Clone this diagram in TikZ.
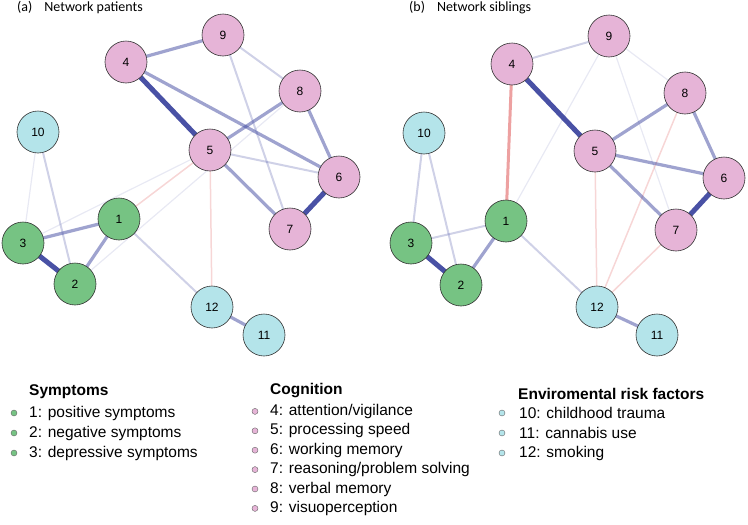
\documentclass[tikz,border=0pt]{standalone}
\usepackage{fontspec}
\setmainfont{Liberation Sans}
\newfontfamily\titlefont{Carlito}
\usetikzlibrary{positioning}

\definecolor{cogpink}{HTML}{E6B4D7}
\definecolor{sympgreen}{HTML}{76C383}
\definecolor{envcyan}{HTML}{B4E4EA}
\definecolor{edgeblue}{HTML}{3F48A0}
\definecolor{edgered}{HTML}{E88A8A}

\tikzset{
  var/.style={circle,draw=black!80,line width=0.6pt,minimum size=42pt,inner sep=0pt,font=\fontsize{12}{12}\selectfont},
  cog/.style={var,fill=cogpink},
  symp/.style={var,fill=sympgreen},
  env/.style={var,fill=envcyan},
  strong/.style={draw=edgeblue,line width=5pt,opacity=0.95},
  mid/.style={draw=edgeblue,line width=3.2pt,opacity=0.5},
  weak/.style={draw=edgeblue,line width=2pt,opacity=0.25},
  faint/.style={draw=edgeblue,line width=1.2pt,opacity=0.12},
  negmid/.style={draw=edgered,line width=3pt,opacity=0.8},
  negweak/.style={draw=edgered,line width=1.5pt,opacity=0.35},
  dot/.style={circle,draw=black!60,line width=0.4pt,minimum size=6pt,inner sep=0pt},
  item/.style={right,inner sep=0pt,font=\fontsize{15.5}{15.5}\selectfont},
  head/.style={right,inner sep=0pt,font=\bfseries\fontsize{15.5}{15.5}\selectfont},
  title/.style={right,inner sep=0pt,font=\titlefont\fontsize{14}{14}\selectfont},
}

\begin{document}
\begin{tikzpicture}[x=1pt,y=-1pt]
\useasboundingbox (0,0) rectangle (748,525);

% panel titles
\node[title] (ta) at (17,8) {(a)\hspace{12pt}Network patients};
\node[title] (tb) at (409,8) {(b)\hspace{12pt}Network siblings};

% node positions
\coordinate (a9) at (223,35);  \coordinate (a4) at (126,62);
\coordinate (a8) at (300,91);  \coordinate (a10) at (38,132);
\coordinate (a5) at (210,150); \coordinate (a6) at (339,177);
\coordinate (a1) at (119,219); \coordinate (a3) at (23,243);
\coordinate (a7) at (290,229); \coordinate (a2) at (75,284);
\coordinate (a12) at (212,307); \coordinate (a11) at (264,335);

\coordinate (b9) at (609,36);  \coordinate (b4) at (512,64);
\coordinate (b8) at (685,93);  \coordinate (b10) at (424,133);
\coordinate (b5) at (595,151); \coordinate (b6) at (724,178);
\coordinate (b1) at (506,221); \coordinate (b3) at (411,243);
\coordinate (b7) at (676,230); \coordinate (b2) at (461,285);
\coordinate (b12) at (597,307); \coordinate (b11) at (657,335);

% edges (a)
\foreach \u/\v/\s in {4/9/mid,9/8/weak,9/7/weak,4/5/strong,4/6/mid,8/5/mid,8/6/mid,8/2/faint,
                      5/6/weak,5/7/mid,6/7/strong,5/3/faint,10/3/faint,10/2/weak,
                      3/1/mid,3/2/strong,1/2/mid,1/12/weak,12/11/mid,5/1/negweak,5/12/negweak}
  \draw[\s] (a\u) -- (a\v);

% edges (b)
\foreach \u/\v/\s in {4/9/weak,9/8/faint,9/1/faint,9/7/faint,4/1/negmid,4/5/strong,8/5/mid,8/6/mid,
                      8/12/negweak,5/6/mid,5/7/mid,5/12/negweak,6/7/strong,7/12/negweak,
                      10/3/weak,10/2/weak,3/1/weak,3/2/strong,1/2/mid,1/12/weak,12/11/mid}
  \draw[\s] (b\u) -- (b\v);

% nodes
\foreach \p in {a,b}{
  \foreach \n in {4,...,9} \node[cog] (\p n\n) at (\p\n) {\n};
  \foreach \n in {1,2,3} \node[symp] (\p n\n) at (\p\n) {\n};
  \foreach \n in {10,11,12} \node[env] (\p n\n) at (\p\n) {\n};
}

% legend
\node[head] (hs) at (29,392) {Symptoms};
\node[head] (hc) at (270,391) {Cognition};
\node[head] (he) at (518,394) {Enviromental risk factors};
\foreach \t [count=\i] in {1: positive symptoms,2: negative symptoms,3: depressive symptoms}{
  \node[dot,fill=sympgreen] (ds\i) at (14,393+20*\i) {};
  \node[item] (ls\i) at (29,393+20*\i) {\t};
}
\foreach \t [count=\i] in {4: attention/vigilance,5: processing speed,6: working memory,
                           7: reasoning/problem solving,8: verbal memory,9: visuoperception}{
  \node[dot,fill=cogpink] (dc\i) at (255,392+19.4*\i) {};
  \node[item] (lc\i) at (270,392+19.4*\i) {\t};
}
\foreach \t [count=\i] in {10: childhood trauma,11: cannabis use,12: smoking}{
  \node[dot,fill=envcyan] (de\i) at (502,393+20*\i) {};
  \node[item] (le\i) at (519,393+20*\i) {\t};
}
\end{tikzpicture}
\end{document}
